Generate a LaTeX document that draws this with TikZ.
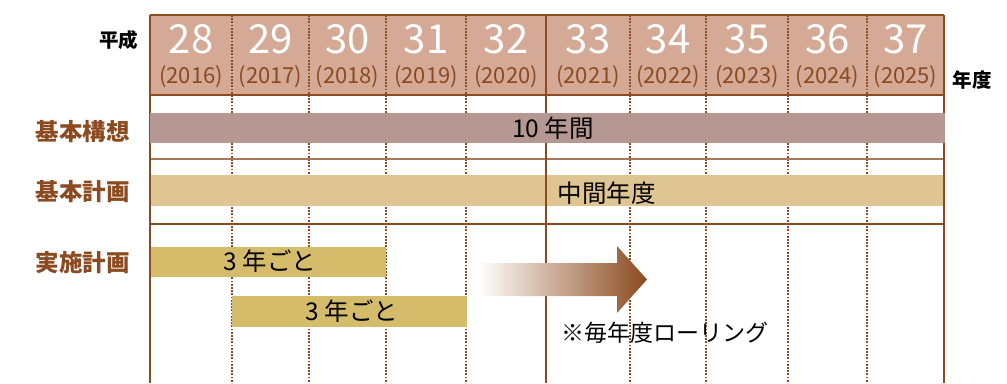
\documentclass[tikz,border=0pt]{standalone}
\usepackage{fontspec}
\setmainfont{Noto Sans CJK JP}
\usetikzlibrary{shadings}
\definecolor{brn}{HTML}{8B4A20}
\definecolor{hdrfill}{HTML}{D4A996}
\definecolor{barA}{HTML}{B49891}
\definecolor{barB}{HTML}{DFC592}
\definecolor{barC}{HTML}{D5BC6A}
\tikzset{
  hnum/.style={text=white, font=\fontsize{40}{40}\selectfont, anchor=base, inner sep=0},
  hyr/.style={text=brn, font=\fontsize{22}{22}\selectfont, anchor=base, inner sep=0},
  lbl/.style={text=brn, font=\bfseries\fontsize{23.5}{23.5}\selectfont, anchor=base east, inner sep=0},
  btxt/.style={text=black, font=\fontsize{24.5}{24.5}\selectfont, anchor=base, inner sep=0},
  side/.style={text=black, font=\bfseries\fontsize{19.5}{19.5}\selectfont, anchor=base, inner sep=0},
  dotline/.style={draw=brn, line width=1.8pt, dash pattern=on 1.8pt off 1.4pt},
  solidline/.style={draw=brn, line width=1.4pt},
  thickline/.style={draw=brn, line width=2.7pt},
  bar/.style={draw=none, inner sep=0, anchor=north west},
}
\begin{document}
\begin{tikzpicture}[x=1pt,y=-1pt]
\useasboundingbox (0,0) rectangle (1007,383);
% header box
\fill[hdrfill] (150,15) rectangle (944,95);
% dotted column lines
\foreach \x in {232,309,386,466,630,706,788,867}
  \draw[dotline] (\x,15) -- (\x,383);
% bars (row 2 and 3)
\node[bar, fill=barB, minimum width=795pt, minimum height=31pt] (b2) at (150,175) {};
\node[bar, fill=barC, minimum width=236pt, minimum height=30pt] (b3) at (150,247) {};
\node[bar, fill=barC, minimum width=235pt, minimum height=31pt] (b4) at (232,296) {};
% solid lines
\draw[solidline] (150,15) -- (944,15);
\draw[solidline] (150,95) -- (944,95);
\draw[draw=brn!75, line width=1.8pt] (150,159) -- (944,159);
\draw[solidline] (150,224) -- (944,224);
\draw[solidline] (150,15) -- (150,383);
\draw[solidline] (944,15) -- (944,383);
\draw[thickline] (546,15) -- (546,383);
% bar row 1
\node[bar, fill=barA, minimum width=795pt, minimum height=30pt] (b1) at (150,113) {};
% header texts
\foreach \cx/\n/\y in {191/28/2016,270.5/29/2017,347.5/30/2018,426/31/2019,506/32/2020,588/33/2021,668/34/2022,747/35/2023,827.5/36/2024,905.5/37/2025}{
  \node[hnum] (n\n) at (\cx,53) {\n};
  \node[hyr] (y\n) at (\cx,83) {(\y)};
}
\node[side] (heisei) at (118.5,47.5) {平成};
\node[side] (nendo) at (972,87) {年度};
% row labels
\node[lbl] (l1) at (130,140.5) {基本構想};
\node[lbl] (l2) at (130,200.5) {基本計画};
\node[lbl] (l3) at (130,271.5) {実施計画};
% bar texts
\node[btxt] (t1) at (553,137) {10 年間};
\node[btxt] (t2) at (606.5,202) {中間年度};
\node[btxt] (t3) at (270,270.5) {3 年ごと};
\node[btxt] (t4) at (352,320.5) {3 年ごと};
% rolling arrow
\shade[left color=white, right color=brn, draw=none]
  (478,263) -- (617,263) -- (617,246) -- (647,279.5) -- (617,313) -- (617,296) -- (478,296) -- cycle;
\node[btxt, font=\fontsize{23}{23}\selectfont] (roll) at (664.5,341.5) {※毎年度ローリング};
\end{tikzpicture}
\end{document}
